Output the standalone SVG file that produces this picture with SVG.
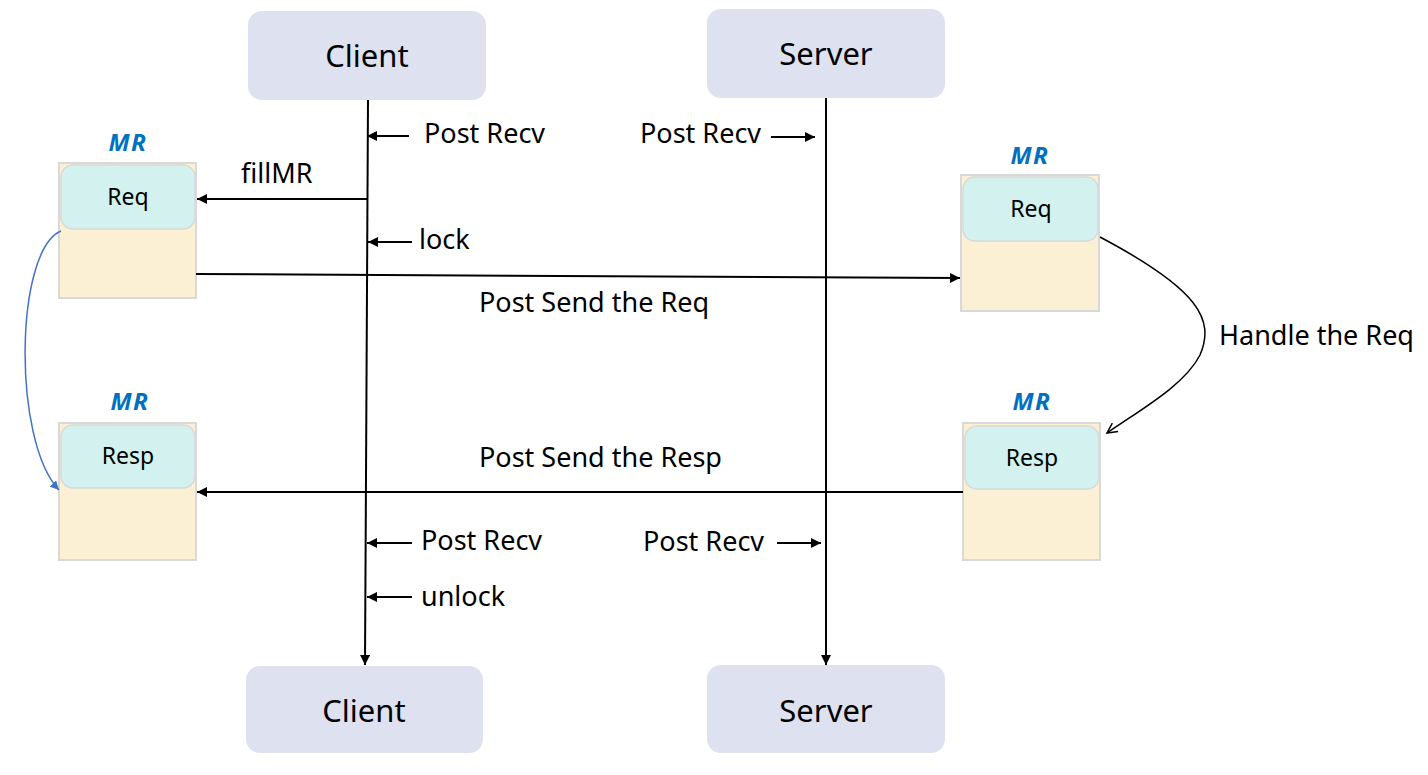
<svg xmlns="http://www.w3.org/2000/svg" width="1428" height="775" viewBox="0 0 1428 775">
<style>
.actor{fill:#dee1f0}
.actor-t{font-family:"Noto Sans",sans-serif;font-size:31px;fill:#000;text-anchor:middle}
.lbl{font-family:"Noto Sans",sans-serif;font-size:27px;fill:#000}
.mr{fill:#fbefd4;stroke:#d9d9d9;stroke-width:2}
.buf{fill:#d3f1ef;stroke:#d9d9d9;stroke-width:1.5}
.buf-t{font-family:"Noto Sans",sans-serif;font-size:23px;fill:#000;text-anchor:middle}
.mr-t{font-family:"Noto Sans",sans-serif;font-size:24px;font-weight:bold;font-style:italic;fill:#0070c0;text-anchor:middle;letter-spacing:1.5px}
.ln{stroke:#000;stroke-width:2;fill:none}
</style>
<defs>
<marker id="ah" viewBox="0 0 10 10" refX="10" refY="5" markerWidth="5" markerHeight="5" orient="auto" markerUnits="strokeWidth"><path d="M0,0 L10,5 L0,10 z" fill="#000"/></marker>
<marker id="ahb" viewBox="0 0 10 10" refX="10" refY="5" markerWidth="6" markerHeight="6" orient="auto" markerUnits="strokeWidth"><path d="M0,0 L10,5 L0,10 z" fill="#4472c4"/></marker>
<marker id="aho" viewBox="0 0 12 12" refX="11" refY="6" markerWidth="12" markerHeight="12" orient="auto" markerUnits="userSpaceOnUse"><path d="M1,1 L11,6 L1,11" fill="none" stroke="#000" stroke-width="1.5"/></marker>
</defs>
<rect width="1428" height="775" fill="#fff"/>

<g id="client-top"><rect class="actor" x="248" y="11" width="238" height="89" rx="14"/><text class="actor-t" x="367" y="67">Client</text></g>
<g id="server-top"><rect class="actor" x="707" y="9" width="238" height="89" rx="14"/><text class="actor-t" x="826" y="65">Server</text></g>
<g id="client-bottom"><rect class="actor" x="246" y="666" width="237" height="87" rx="14"/><text class="actor-t" x="364" y="722">Client</text></g>
<g id="server-bottom"><rect class="actor" x="707" y="665" width="238" height="88" rx="14"/><text class="actor-t" x="826" y="722">Server</text></g>

<g id="mr-client-req">
<text class="mr-t" x="128" y="151">MR</text>
<rect class="mr" x="59" y="163" width="137" height="135"/>
<rect class="buf" x="61" y="165" width="134" height="64" rx="12"/>
<text class="buf-t" x="128" y="205">Req</text>
</g>
<g id="mr-client-resp">
<text class="mr-t" x="130" y="410">MR</text>
<rect class="mr" x="59" y="423" width="137" height="137"/>
<rect class="buf" x="61" y="425" width="134" height="63" rx="12"/>
<text class="buf-t" x="128" y="464">Resp</text>
</g>
<g id="mr-server-req">
<text class="mr-t" x="1030" y="164">MR</text>
<rect class="mr" x="961" y="175" width="138" height="136"/>
<rect class="buf" x="963" y="177" width="135" height="64" rx="12"/>
<text class="buf-t" x="1031" y="217">Req</text>
</g>
<g id="mr-server-resp">
<text class="mr-t" x="1032" y="410">MR</text>
<rect class="mr" x="963" y="423" width="137" height="137"/>
<rect class="buf" x="965" y="426" width="134" height="63" rx="12"/>
<text class="buf-t" x="1032" y="466">Resp</text>
</g>

<g id="connectors">
<line class="ln" x1="368" y1="100" x2="365" y2="665" marker-end="url(#ah)"/>
<line class="ln" x1="826" y1="98" x2="826" y2="665" marker-end="url(#ah)"/>
<line class="ln" x1="409" y1="136" x2="367" y2="136" marker-end="url(#ah)"/>
<line class="ln" x1="771" y1="137" x2="815" y2="137" marker-end="url(#ah)"/>
<line class="ln" x1="367" y1="199" x2="197" y2="199" marker-end="url(#ah)"/>
<line class="ln" x1="412" y1="242" x2="368" y2="242" marker-end="url(#ah)"/>
<line class="ln" x1="196" y1="274" x2="960" y2="278" marker-end="url(#ah)"/>
<line class="ln" x1="963" y1="492" x2="197" y2="492" marker-end="url(#ah)"/>
<line class="ln" x1="412" y1="543" x2="367" y2="543" marker-end="url(#ah)"/>
<line class="ln" x1="777" y1="543" x2="821" y2="543" marker-end="url(#ah)"/>
<line class="ln" x1="412" y1="597" x2="367" y2="597" marker-end="url(#ah)"/>
<path d="M61,231 C15,250 12,440 59,490" fill="none" stroke="#4472c4" stroke-width="1.5" marker-end="url(#ahb)"/>
<path d="M1100,237 C1200,290 1215,320 1200,355 C1185,385 1140,410 1107,433" fill="none" stroke="#000" stroke-width="1.5" marker-end="url(#aho)"/>
</g>

<g id="labels">
<text class="lbl" x="424" y="143">Post Recv</text>
<text class="lbl" x="640" y="143">Post Recv</text>
<text class="lbl" x="241" y="183">fillMR</text>
<text class="lbl" x="419" y="249">lock</text>
<text class="lbl" x="479" y="312">Post Send the Req</text>
<text class="lbl" x="1219" y="345">Handle the Req</text>
<text class="lbl" x="479" y="467">Post Send the Resp</text>
<text class="lbl" x="421" y="550">Post Recv</text>
<text class="lbl" x="643" y="551">Post Recv</text>
<text class="lbl" x="421" y="606">unlock</text>
</g>
</svg>
